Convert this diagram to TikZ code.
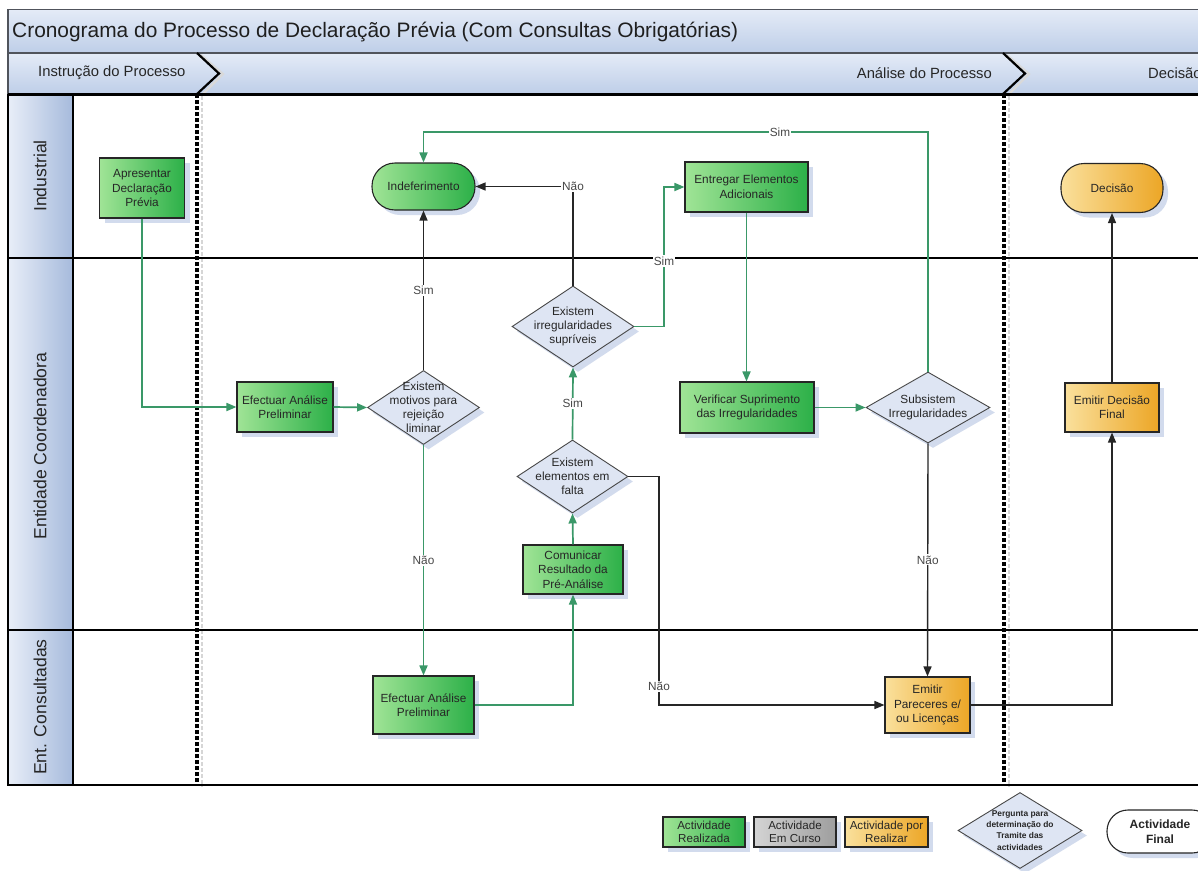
\documentclass[tikz,border=0pt]{standalone}
\usepackage{fontspec}
\setmainfont{Liberation Sans}
\usetikzlibrary{arrows.meta,shadows,shapes.geometric}

\definecolor{bandlight}{RGB}{228,235,247}
\definecolor{banddark}{RGB}{190,206,232}
\definecolor{lanelight}{RGB}{232,238,248}
\definecolor{lanedark}{RGB}{166,186,220}
\definecolor{greenlight}{RGB}{160,228,150}
\definecolor{greendark}{RGB}{44,176,72}
\definecolor{orangelight}{RGB}{250,224,156}
\definecolor{orangedark}{RGB}{236,166,38}
\definecolor{graylight}{RGB}{212,212,212}
\definecolor{graydark}{RGB}{158,158,158}
\definecolor{decfill}{RGB}{222,229,243}
\definecolor{flowgreen}{RGB}{58,152,104}
\definecolor{shadowblue}{RGB}{210,219,237}
\definecolor{ink}{RGB}{38,38,38}
\definecolor{bandline}{RGB}{80,84,92}

\tikzset{
  base/.style={draw=ink, line width=1.1pt, align=center, text=ink, inner sep=1pt,
    font=\fontsize{11.8}{14.5}\selectfont,
    drop shadow={shadow xshift=5pt, shadow yshift=-5pt, fill=shadowblue, opacity=1}},
  donebox/.style={base, rectangle, left color=greenlight, right color=greendark},
  todobox/.style={base, rectangle, left color=orangelight, right color=orangedark},
  busybox/.style={base, rectangle, left color=graylight, right color=graydark},
  doneend/.style={donebox, rounded corners=23pt},
  todoend/.style={todobox, rounded corners=23pt},
  plainend/.style={base, rectangle, rounded corners=21pt, fill=white},
  question/.style={base, diamond, fill=decfill, draw=ink!85, line width=0.9pt, inner sep=0pt},
  qtext/.style={align=center, text=ink, inner sep=0pt, font=\fontsize{11.8}{14}\selectfont},
  yesflow/.style={draw=flowgreen, line width=1.7pt, -{Triangle[length=10pt,width=8pt]}},
  noflow/.style={draw=ink, line width=1.4pt, -{Triangle[length=10pt,width=8pt]}},
  lbl/.style={fill=white, inner sep=1.2pt, text=ink!85, font=\fontsize{11.8}{14}\selectfont},
  lanelabel/.style={rotate=90, text=ink, font=\fontsize{17.6}{20}\selectfont},
  phaselabel/.style={text=ink, font=\fontsize{14.8}{17}\selectfont},
  lanerule/.style={draw=black, line width=2.4pt},
  milestone/.style={draw=black, line width=3.2pt, dash pattern=on 3.5pt off 2.5pt},
  milestoneshade/.style={draw=black!16, line width=1.8pt, dash pattern=on 3.5pt off 2.5pt},
  chevron/.style={draw=black, line width=2.2pt, line join=miter},
}

\begin{document}
\begin{tikzpicture}[x=1pt,y=-1pt]
\useasboundingbox (0,0) rectangle (1198,870);
\fill[white] (0,0) rectangle (1198,870);

% title and phase bands
\fill[top color=bandlight, bottom color=banddark] (8,9.5) rectangle (1215,53);
\fill[top color=bandlight, bottom color=banddark] (8,53) rectangle (1215,94);
\draw[bandline, line width=1.2pt] (1215,9.5) -- (8,9.5) -- (8,94);
\draw[bandline, line width=1.6pt] (8,53) -- (1215,53);
\node[anchor=west, text=black!88, font=\fontsize{20.9}{24}\selectfont, inner sep=0pt] (title) at (12,32)
  {Cronograma do Processo de Declaração Prévia (Com Consultas Obrigatórias)};
\node[phaselabel, anchor=west, inner sep=0pt] (ph1) at (38,73) {Instrução do Processo};
\node[phaselabel, anchor=east, inner sep=0pt] (ph2) at (992,73) {Análise do Processo};
\node[phaselabel, anchor=west, inner sep=0pt] (ph3) at (1148,73) {Decisão};
\draw[chevron, draw=black!15] (201,55) -- (223,74) -- (201,96);
\draw[chevron] (197,53) -- (219,73.5) -- (197,94);
\draw[chevron, draw=black!15] (1007,55) -- (1029,74) -- (1007,96);
\draw[chevron] (1003,53) -- (1025,73.5) -- (1003,94);

% swimlane label column
\fill[left color=lanelight, right color=lanedark] (8,94) rectangle (73,785);
\node[lanelabel] (lane1) at (40,176) {Industrial};
\node[lanelabel] (lane2) at (40,446) {Entidade Coordenadora};
\node[lanelabel] (lane3) at (40,707) {Ent. Consultadas};

% phase separators
\draw[milestoneshade] (202,96) -- (202,787);
\draw[milestoneshade] (1009,96) -- (1009,787);
\draw[milestone] (197,94) -- (197,785);
\draw[milestone] (1004,94) -- (1004,785);

% lane rules
\draw[lanerule] (8,94.5) -- (1215,94.5);
\draw[lanerule] (8,258) -- (1215,258);
\draw[lanerule] (8,630) -- (1215,630);
\draw[lanerule] (8,785) -- (1215,785);
\draw[lanerule] (8,94) -- (8,786.2);
\draw[lanerule] (73,94) -- (73,785);

% activities
\node[donebox, minimum width=85pt, minimum height=60pt] (apres) at (142,188) {Apresentar\\Declaração\\Prévia};
\node[doneend, minimum width=103pt, minimum height=47pt] (indef) at (423.5,186.5) {Indeferimento};
\node[donebox, minimum width=123pt, minimum height=50pt] (entreg) at (746.5,187) {Entregar Elementos\\Adicionais};
\node[todoend, minimum width=102pt, minimum height=49pt] (decis) at (1112,188) {Decisão};
\node[donebox, minimum width=96pt, minimum height=50pt] (efec1) at (285,407) {Efectuar Análise\\Preliminar};
\node[question, minimum width=112pt, minimum height=74pt,
  label={[qtext]center:Existem\\motivos para\\rejeição\\liminar}] (q1) at (423.5,407.5) {};
\node[question, minimum width=122pt, minimum height=81pt,
  label={[qtext]center:Existem\\irregularidades\\supríveis}] (q2) at (573,326.5) {};
\node[donebox, minimum width=134pt, minimum height=51pt] (verif) at (747,407.5) {Verificar Suprimento\\das Irregularidades};
\node[question, minimum width=124pt, minimum height=71pt,
  label={[qtext]center:Subsistem\\Irregularidades}] (q4) at (928,407.5) {};
\node[todobox, minimum width=94pt, minimum height=49pt] (final) at (1112,407.5) {Emitir Decisão\\Final};
\node[question, minimum width=111pt, minimum height=73pt,
  label={[qtext]center:Existem\\elementos em\\falta}] (q3) at (572.5,476.5) {};
\node[donebox, minimum width=100pt, minimum height=49pt] (comun) at (573,569.5) {Comunicar\\Resultado da\\Pré-Análise};
\node[donebox, minimum width=101pt, minimum height=58pt] (efec2) at (423.5,705) {Efectuar Análise\\Preliminar};
\node[todobox, minimum width=85pt, minimum height=56pt] (emit) at (927.5,705) {Emitir\\Pareceres e/\\ou Licenças};

% flow
\coordinate (bendA) at (664,187);
\coordinate (bendB) at (600,132);
\coordinate (bendC) at (659,686);
\draw[yesflow] (apres.south) |- (efec1.west);
\draw[yesflow] (efec1.east) -- (q1.west);
\draw[noflow] (q1.north) -- node[lbl] (s1) {Sim} (indef.south);
\draw[yesflow] (q1.south) -- node[lbl] (n1) {Não} (efec2.north);
\draw[yesflow] (efec2.east) -| (comun.south);
\draw[yesflow] (comun.north) -- (q3.south);
\draw[yesflow] (q3.north) -- node[lbl] (s2) {Sim} (q2.south);
\draw[noflow] (q2.north) |- node[lbl, pos=0.5] (n2) {Não} (indef.east);
\draw[yesflow] (q2.east) -| (bendA) -- (entreg.west);
\node[lbl] (s3) at (664,261) {Sim};
\draw[yesflow] (entreg.south) -- (entreg.south |- verif.north);
\draw[yesflow] (verif.east) -- (q4.west);
\draw[yesflow] (q4.north) |- (bendB) -| (indef.north);
\node[lbl] (s4) at (780,132) {Sim};
\draw[noflow] (q4.south) -- node[lbl] (n3) {Não} (emit.north);
\draw[noflow] (q3.east) -| (bendC) |- (emit.west);
\node[lbl] (n4) at (bendC) {Não};
\draw[noflow] (emit.east) -| (final.south);
\draw[noflow] (final.north) -- (decis.south);

% key
\node[donebox, minimum width=82pt, minimum height=30pt, font=\fontsize{11.6}{13.5}\selectfont, inner sep=0pt] (key1) at (704,832) {Actividade\\Realizada};
\node[busybox, minimum width=82pt, minimum height=30pt, font=\fontsize{11.6}{13.5}\selectfont, inner sep=0pt] (key2) at (795,832) {Actividade\\Em Curso};
\node[todobox, minimum width=83pt, minimum height=30pt, font=\fontsize{11.6}{13.5}\selectfont, inner sep=0pt] (key3) at (886.5,832) {Actividade por\\Realizar};
\node[question, minimum width=124pt, minimum height=76pt,
  label={[qtext, font=\bfseries\fontsize{8.4}{11.2}\selectfont]center:Pergunta para\\determinação do\\Tramite das\\actividades}] (key4) at (1020,830.5) {};
\node[plainend, minimum width=106pt, minimum height=43pt, font=\bfseries\fontsize{12}{15}\selectfont] (key5) at (1160,831.5) {Actividade\\Final};
\end{tikzpicture}
\end{document}
